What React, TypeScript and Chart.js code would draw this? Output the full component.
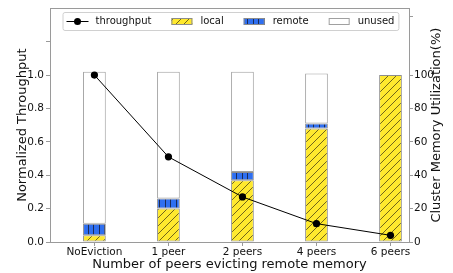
import React, { useEffect, useRef } from 'react';
import { Chart, registerables } from 'chart.js';

Chart.register(...registerables);

// ---- data ----
const CATEGORIES = ['NoEviction', '1 peer', '2 peers', '4 peers', '6 peers'];
const THROUGHPUT = [1.0, 0.51, 0.27, 0.11, 0.04];
const LOCAL = [4, 20, 37, 68, 100];
const REMOTE = [7, 6, 5, 3, 0];
const UNUSED = [91, 76, 60, 30, 0];
const LEFT_TICKS = [0, 0.2, 0.4, 0.6, 0.8, 1.0, 1.2];
const LEFT_LABEL_MAX = 1.0;
const RIGHT_TICKS = [0, 20, 40, 60, 80, 100, 135];
const RIGHT_LABEL_MAX = 100;
const X_TITLE = 'Number of peers evicting remote memory';
const Y_TITLE = 'Normalized Throughput';
const Y2_TITLE = 'Cluster Memory Utilization(%)';

const FONT = 'DejaVu Sans';
const AXIS_GRAY = '#9a9a9a';
const TEXT = '#111';
const YELLOW = '#ffe92e';
const BLUE = '#2f6ff0';

function diagPattern(bg: string, line: string): CanvasPattern {
  const c = document.createElement('canvas');
  c.width = 8;
  c.height = 8;
  const g = c.getContext('2d')!;
  g.fillStyle = bg;
  g.fillRect(0, 0, 8, 8);
  g.strokeStyle = line;
  g.lineWidth = 0.9;
  g.beginPath();
  g.moveTo(0, 8);
  g.lineTo(8, 0);
  g.moveTo(-2, 2);
  g.lineTo(2, -2);
  g.moveTo(6, 10);
  g.lineTo(10, 6);
  g.stroke();
  return g.createPattern(c, 'repeat')!;
}

function vertPattern(bg: string, line: string): CanvasPattern {
  const c = document.createElement('canvas');
  c.width = 11;
  c.height = 4;
  const g = c.getContext('2d')!;
  g.fillStyle = bg;
  g.fillRect(0, 0, 11, 4);
  g.fillStyle = line;
  g.fillRect(0, 0, 1, 4);
  g.fillRect(5, 0, 1, 4);
  return g.createPattern(c, 'repeat')!;
}

export default function App() {
  const ref = useRef<HTMLCanvasElement | null>(null);

  useEffect(() => {
    document.body.style.margin = '0';
    const canvas = ref.current!;
    const localFill = diagPattern(YELLOW, 'rgba(70,60,20,0.85)');
    const remoteFill = vertPattern(BLUE, 'rgba(25,35,70,0.9)');

    const overlay = {
      id: 'overlay',
      afterDraw(chart: any) {
        const { ctx, chartArea: a } = chart;
        ctx.save();
        // top spine
        ctx.strokeStyle = AXIS_GRAY;
        ctx.lineWidth = 1;
        ctx.beginPath();
        ctx.moveTo(a.left, Math.round(a.top) + 0.5);
        ctx.lineTo(a.right, Math.round(a.top) + 0.5);
        ctx.stroke();

        // axis titles
        ctx.fillStyle = TEXT;
        ctx.font = `13px "${FONT}"`;
        ctx.textAlign = 'center';
        ctx.textBaseline = 'alphabetic';
        const cy = (a.top + a.bottom) / 2;
        ctx.fillText(X_TITLE, (a.left + a.right) / 2, 267.5);
        ctx.save();
        ctx.translate(25.5, cy);
        ctx.rotate(-Math.PI / 2);
        ctx.fillText(Y_TITLE, 0, 0);
        ctx.restore();
        ctx.save();
        ctx.translate(440, cy);
        ctx.rotate(-Math.PI / 2);
        ctx.fillText(Y2_TITLE, 0, 0);
        ctx.restore();

        // legend
        ctx.font = `10px "${FONT}"`;
        ctx.textAlign = 'left';
        const ds = chart.data.datasets;
        const boxX = a.left + 12.5;
        const boxY = 12;
        const boxH = 18;
        const handleW = 21;
        const gap = 8;
        const itemGap = 20;
        let w = 4;
        ds.forEach((d: any, i: number) => {
          w += handleW + gap + ctx.measureText(d.label).width + (i < ds.length - 1 ? itemGap : 4);
        });
        ctx.fillStyle = 'rgba(255,255,255,0.85)';
        ctx.strokeStyle = '#d0d0d0';
        ctx.lineWidth = 1;
        ctx.beginPath();
        (ctx as any).roundRect(boxX + 0.5, boxY + 0.5, w, boxH, 2);
        ctx.fill();
        ctx.stroke();
        let x = boxX + 4;
        const my = boxY + boxH / 2 + 0.5;
        ds.forEach((d: any) => {
          if (d.type === 'line') {
            ctx.strokeStyle = '#000';
            ctx.lineWidth = 1;
            ctx.beginPath();
            ctx.moveTo(x, my);
            ctx.lineTo(x + handleW + 1, my);
            ctx.stroke();
            ctx.fillStyle = '#000';
            ctx.beginPath();
            ctx.arc(x + handleW / 2 + 0.5, my, 3.5, 0, Math.PI * 2);
            ctx.fill();
          } else {
            ctx.fillStyle = d.backgroundColor;
            ctx.fillRect(x, my - 3.5, handleW, 7);
            ctx.strokeStyle = d.borderColor;
            ctx.lineWidth = 1;
            ctx.strokeRect(x + 0.5, my - 3.5 + 0.5, handleW - 1, 7 - 1);
          }
          x += handleW + gap;
          ctx.fillStyle = TEXT;
          ctx.fillText(d.label, x, 24.3);
          x += ctx.measureText(d.label).width + itemGap;
        });
        ctx.restore();
      },
    };

    const pts = (arr: number[]) => arr.map((v, i) => ({ x: i, y: v }));

    const barCommon = {
      type: 'bar',
      yAxisID: 'y2',
      xAxisID: 'x',
      stack: 'mem',
      borderColor: '#8c8c8c',
      borderWidth: 1,
      borderSkipped: false,
      barPercentage: 0.307,
      categoryPercentage: 1,
    };

    const chart = new Chart(canvas, {
      type: 'bar',
      data: {
        datasets: [
          {
            type: 'line',
            label: 'throughput',
            data: pts(THROUGHPUT),
            xAxisID: 'x',
            yAxisID: 'y',
            borderColor: '#000',
            borderWidth: 1,
            pointRadius: 3.6,
            pointBackgroundColor: '#000',
            pointBorderWidth: 0,
            tension: 0,
          } as any,
          { ...barCommon, label: 'local', data: pts(LOCAL), backgroundColor: localFill } as any,
          { ...barCommon, label: 'remote', data: pts(REMOTE), backgroundColor: remoteFill } as any,
          { ...barCommon, label: 'unused', data: pts(UNUSED), backgroundColor: '#ffffff', borderColor: '#a0a0a0' } as any,
        ],
      },
      options: {
        responsive: false,
        animation: false,
        layout: { padding: { top: 7, left: 0, right: 0, bottom: 0 } },
        plugins: { legend: { display: false }, tooltip: { enabled: false } },
        scales: {
          x: {
            type: 'linear',
            offset: false,
            min: -0.6,
            max: 4.25,
            afterBuildTicks: (s: any) => {
              s.ticks = CATEGORIES.map((_, i) => ({ value: i }));
            },
            afterFit: (s: any) => {
              s.height = 31;
            },
            ticks: {
              callback: (v: any) => CATEGORIES[v] ?? '',
              font: { family: FONT, size: 10.5 },
              color: TEXT,
              padding: 0,
              maxRotation: 0,
              autoSkip: false,
            },
            grid: { offset: false, drawOnChartArea: false, tickLength: 4, tickColor: AXIS_GRAY },
            border: { color: AXIS_GRAY },
          },
          y: {
            type: 'linear',
            position: 'left',
            min: 0,
            max: 1.4,
            afterBuildTicks: (s: any) => {
              s.ticks = LEFT_TICKS.map((v) => ({ value: v }));
            },
            afterFit: (s: any) => {
              s.width = 50;
            },
            ticks: {
              callback: (v: any) => (v <= LEFT_LABEL_MAX + 1e-9 ? Number(v).toFixed(1) : ''),
              font: { family: FONT, size: 10.5 },
              color: TEXT,
              padding: 2,
            },
            grid: { drawOnChartArea: false, tickLength: 4, tickColor: AXIS_GRAY },
            border: { color: AXIS_GRAY },
          },
          y2: {
            type: 'linear',
            position: 'right',
            stacked: true,
            min: 0,
            max: 140,
            afterBuildTicks: (s: any) => {
              s.ticks = RIGHT_TICKS.map((v) => ({ value: v }));
            },
            afterFit: (s: any) => {
              s.width = 44;
            },
            ticks: {
              callback: (v: any) => (v <= RIGHT_LABEL_MAX ? String(v) : ''),
              font: { family: FONT, size: 10.5 },
              color: TEXT,
              padding: 1,
            },
            grid: { drawOnChartArea: false, tickLength: 4, tickColor: AXIS_GRAY },
            border: { color: AXIS_GRAY },
          },
        },
      } as any,
      plugins: [overlay],
    });

    return () => chart.destroy();
  }, []);

  return (
    <div style={{ width: 453, height: 273 }}>
      <canvas ref={ref} width={453} height={273} />
    </div>
  );
}
